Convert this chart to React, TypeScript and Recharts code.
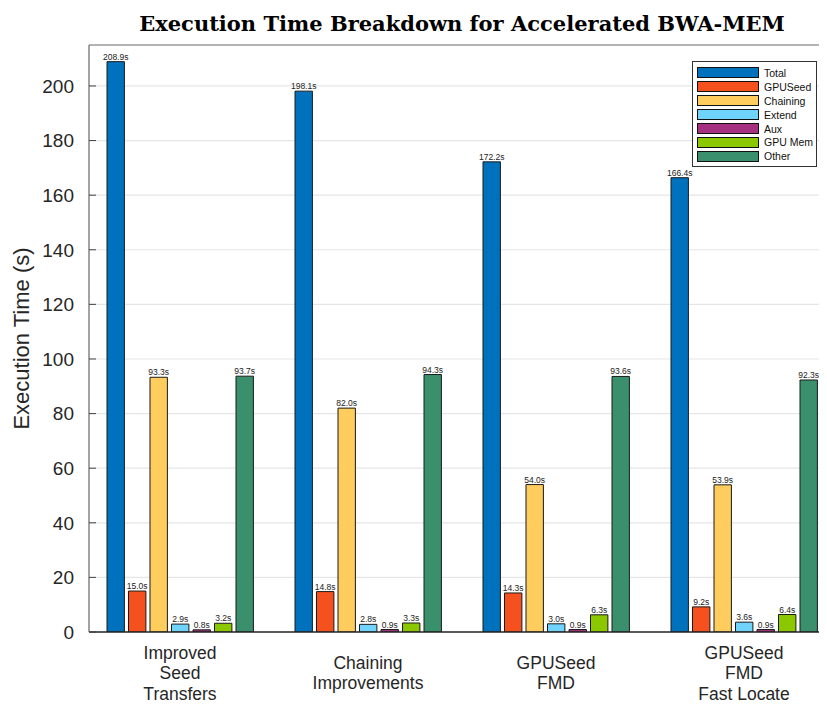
import React from 'react';
import { BarChart, Bar, XAxis, YAxis, CartesianGrid, LabelList, ReferenceLine } from 'recharts';

// configurations along the x axis ("\n" splits the label lines)
const configs = [
  'Improved\nSeed\nTransfers',
  'Chaining\nImprovements',
  'GPUSeed\nFMD',
  'GPUSeed\nFMD\nFast Locate',
];

// seconds per stage, one entry per configuration
const total = [208.9, 198.1, 172.2, 166.4];
const gpuSeed = [15.0, 14.8, 14.3, 9.2];
const chaining = [93.3, 82.0, 54.0, 53.9];
const extend = [2.9, 2.8, 3.0, 3.6];
const aux = [0.8, 0.9, 0.9, 0.9];
const gpuMem = [3.2, 3.3, 6.3, 6.4];
const other = [93.7, 94.3, 93.6, 92.3];

const yTicks = [0, 20, 40, 60, 80, 100, 120, 140, 160, 180, 200];

const series = [
  { key: 'total', name: 'Total', color: '#0072BD', values: total },
  { key: 'gpuSeed', name: 'GPUSeed', color: '#F4511E', values: gpuSeed },
  { key: 'chaining', name: 'Chaining', color: '#FFCD5E', values: chaining },
  { key: 'extend', name: 'Extend', color: '#70D3FC', values: extend },
  { key: 'aux', name: 'Aux', color: '#A5307F', values: aux },
  { key: 'gpuMem', name: 'GPU Mem', color: '#8BC800', values: gpuMem },
  { key: 'other', name: 'Other', color: '#3A906C', values: other },
];

const data = configs.map((config, i) => {
  const row: Record<string, string | number> = { config };
  series.forEach(s => { row[s.key] = s.values[i]; });
  return row;
});

const FONT = '"Liberation Sans", Arial, Helvetica, sans-serif';

const CategoryTick = (props: any) => {
  const { x, y, payload } = props;
  const lines = String(payload.value).split('\n');
  const lh = 20.5;
  const startY = y + 33 - ((lines.length - 1) * lh) / 2;
  return (
    <g>
      {lines.map((ln, i) => (
        <text key={i} x={x} y={startY + i * lh} textAnchor="middle" dominantBaseline="central"
          fontFamily={FONT} fontSize={17.5} fill="#262626">
          {ln}
        </text>
      ))}
    </g>
  );
};

// legend box sits inside the plot, top right
const LegendBox = () => (
  <div style={{
    position: 'absolute', left: 684, top: 53, zIndex: 2,
    border: '1px solid #333', background: '#fff', width: 125, padding: '4px 0 3px 4px',
    boxSizing: 'border-box', fontFamily: FONT, fontSize: 10.5, color: '#111',
  }}>
    {series.map(s => (
      <div key={s.key} style={{ display: 'flex', alignItems: 'center', height: 13.9 }}>
        <span style={{
          display: 'inline-block', width: 60, height: 9, background: s.color,
          border: '1px solid #111', marginRight: 5,
        }} />
        {s.name}
      </div>
    ))}
  </div>
);

export default function App() {
  return (
    <div style={{ position: 'relative', width: 819, height: 696, overflow: 'hidden', background: '#fff' }}>
      <div style={{
        position: 'absolute', left: 0, width: 908, top: 3, textAlign: 'center',
        fontFamily: '"DejaVu Serif", serif', fontWeight: 'bold', fontSize: 21, lineHeight: '26px', color: '#000',
      }}>
        Execution Time Breakdown for Accelerated BWA-MEM
      </div>
      <LegendBox />
      <BarChart width={860} height={696} data={data}
        margin={{ top: 37, right: 27, left: 0, bottom: 0 }}
        barSize={17.4} barGap={4.1}>
        <CartesianGrid vertical={false} stroke="#e6e6e6" strokeWidth={1.2} />
        <XAxis dataKey="config" height={72} tickLine={false} interval={0}
          padding={{ left: -3, right: 3 }}
          axisLine={{ stroke: '#262626', strokeWidth: 1.5 }} tick={<CategoryTick />} />
        <YAxis width={81} domain={[0, 215]} ticks={yTicks} allowDataOverflow
          tickSize={-7} tickMargin={22}
          axisLine={{ stroke: '#666', strokeWidth: 1.2 }} tickLine={{ stroke: '#444' }}
          tick={{ fontFamily: FONT, fontSize: 19, fill: '#262626' }}
          label={{
            value: 'Execution Time (s)', angle: -90, position: 'insideLeft', dx: 8,
            style: { fontFamily: FONT, fontSize: 22, fill: '#262626', textAnchor: 'middle' },
          }} />
        <ReferenceLine y={215} stroke="#777" strokeWidth={1.2} />
        {series.map(s => (
          <Bar key={s.key} dataKey={s.key} name={s.name} fill={s.color}
            stroke="#1a1a1a" strokeWidth={1} isAnimationActive={false}>
            <LabelList dataKey={s.key} position="top" offset={2}
              formatter={(v: any) => `${Number(v).toFixed(1)}s`}
              style={{ fontFamily: FONT, fontSize: 8.5, fill: '#222' }} />
          </Bar>
        ))}
      </BarChart>
    </div>
  );
}
